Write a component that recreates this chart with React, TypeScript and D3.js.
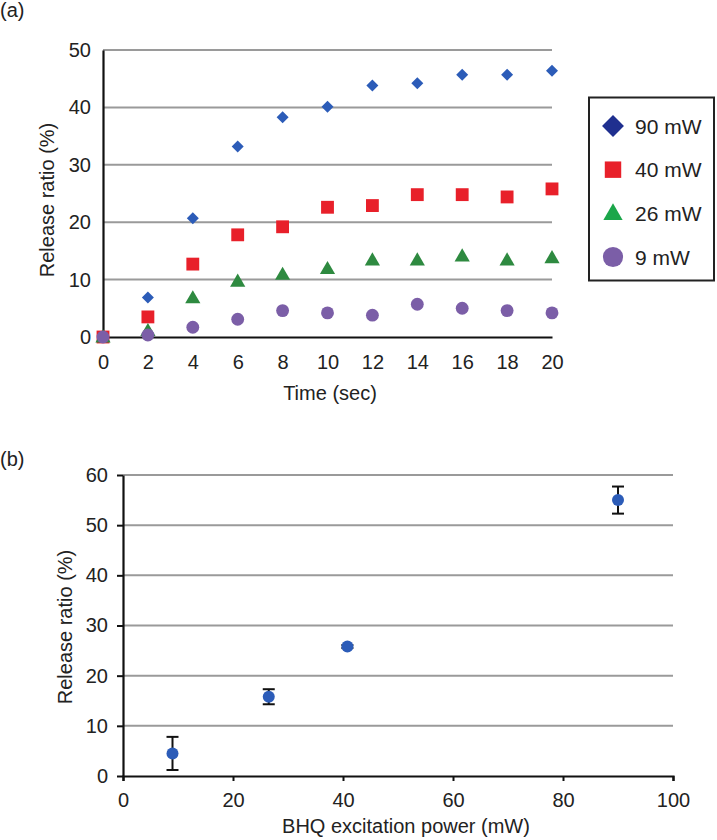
import React, { useEffect, useRef } from "react";
import * as d3 from "d3";

const times = [0, 2, 4, 6, 8, 10, 12, 14, 16, 18, 20];
const mw90 = [0, 6.9, 20.7, 33.2, 38.3, 40.1, 43.8, 44.2, 45.7, 45.7, 46.4];
const mw40 = [0, 3.5, 12.7, 17.8, 19.2, 22.6, 22.9, 24.8, 24.8, 24.4, 25.8];
const mw26 = [0, 1.1, 6.8, 9.7, 10.9, 11.9, 13.4, 13.4, 14.1, 13.4, 13.8];
const mw9 = [0, 0.35, 1.7, 3.1, 4.6, 4.2, 3.8, 5.7, 5.0, 4.6, 4.2];
const seriesNames = ["90 mW", "40 mW", "26 mW", "9 mW"];

const power = [9, 26.5, 40.8, 90];
const release = [4.5, 15.8, 25.8, 55.0];
const releaseErr = [3.3, 1.5, 0.3, 2.7];

const App = () => {
  const svgRef = useRef<SVGSVGElement>(null);

  useEffect(() => {
    const svg = d3.select(svgRef.current);
    svg.selectAll("*").remove();
    const font = "'Liberation Sans', Arial, sans-serif";
    const ink = "#222";
    svg.attr("font-family", font);

    const sym = (type: d3.SymbolType, size: number) => d3.symbol().type(type).size(size)();

    // ---- panel (a) ----
    const xA = d3.scaleLinear().domain([0, 20]).range([103, 552]);
    const yA = d3.scaleLinear().domain([0, 50]).range([337, 50]);

    svg.append("text").attr("x", 0).attr("y", 17).attr("font-size", 20).attr("fill", ink).text("(a)");

    const gA = svg.append("g");
    gA.selectAll("line.grid")
      .data(d3.range(10, 51, 10))
      .join("line")
      .attr("x1", xA(0))
      .attr("x2", xA(20))
      .attr("y1", (d) => yA(d))
      .attr("y2", (d) => yA(d))
      .attr("stroke", "#9a9a9a")
      .attr("stroke-width", 2);

    const xAxisA = gA.append("g")
      .attr("transform", `translate(0,${yA(0)})`)
      .call(d3.axisBottom(xA).tickValues(times).tickSize(0).tickPadding(18));
    const yAxisA = gA.append("g")
      .attr("transform", `translate(${xA(0)},0)`)
      .call(d3.axisLeft(yA).ticks(5).tickSize(0).tickPadding(12));
    [xAxisA, yAxisA].forEach((ax) => {
      ax.select(".domain").attr("stroke", "#111").attr("stroke-width", 2.2);
      ax.selectAll("text").attr("font-size", 20).attr("font-family", font).attr("fill", ink);
    });

    gA.append("text")
      .attr("x", 330)
      .attr("y", 400)
      .attr("text-anchor", "middle")
      .attr("font-size", 20)
      .attr("fill", ink)
      .text("Time (sec)");
    gA.append("text")
      .attr("transform", `translate(54,200) rotate(-90)`)
      .attr("text-anchor", "middle")
      .attr("font-size", 20)
      .attr("fill", ink)
      .text("Release ratio (%)");

    const drawSeries = (vals: number[], path: string | null, color: string, rot = 0, dy = 0) => {
      gA.append("g")
        .selectAll("path")
        .data(vals)
        .join("path")
        .attr("d", path)
        .attr("transform", (d, i) => `translate(${xA(times[i])},${yA(d) + dy}) rotate(${rot})`)
        .attr("fill", color);
    };
    drawSeries(mw90, sym(d3.symbolSquare, 72), "#2c5cb8", 45);
    drawSeries(mw40, sym(d3.symbolSquare, 165), "#e8202a");
    drawSeries(mw26, sym(d3.symbolTriangle, 100), "#2e8a40", 0, 1);
    drawSeries(mw9, sym(d3.symbolCircle, 130), "#7b5ea7");

    // legend
    const leg = svg.append("g");
    leg.append("rect")
      .attr("x", 589)
      .attr("y", 97.5)
      .attr("width", 125)
      .attr("height", 183)
      .attr("fill", "white")
      .attr("stroke", ink)
      .attr("stroke-width", 2);
    const legSym = [
      { p: sym(d3.symbolSquare, 240), c: "#1f2f8f", r: 45 },
      { p: sym(d3.symbolSquare, 270), c: "#e8202a", r: 0 },
      { p: sym(d3.symbolTriangle, 160), c: "#1ba64a", r: 0 },
      { p: sym(d3.symbolCircle, 320), c: "#7b5ea7", r: 0 },
    ];
    const legY = d3.scalePoint().domain(seriesNames).range([126, 257]);
    seriesNames.forEach((name, i) => {
      leg.append("path")
        .attr("d", legSym[i].p)
        .attr("transform", `translate(613,${(legY(name) as number) + (i === 2 ? 1 : 0)}) rotate(${legSym[i].r})`)
        .attr("fill", legSym[i].c);
      leg.append("text")
        .attr("x", 635)
        .attr("y", (legY(name) as number) + 7.5)
        .attr("font-size", 21)
        .attr("fill", ink)
        .text(name);
    });

    // ---- panel (b) ----
    const xB = d3.scaleLinear().domain([0, 100]).range([123, 673]);
    const yB = d3.scaleLinear().domain([0, 60]).range([776, 475]);

    svg.append("text").attr("x", 0).attr("y", 466).attr("font-size", 20).attr("fill", ink).text("(b)");

    const gB = svg.append("g");
    gB.selectAll("line.grid")
      .data(d3.range(10, 61, 10))
      .join("line")
      .attr("x1", xB(0))
      .attr("x2", xB(100))
      .attr("y1", (d) => yB(d))
      .attr("y2", (d) => yB(d))
      .attr("stroke", "#9a9a9a")
      .attr("stroke-width", 2);

    const xAxisB = gB.append("g")
      .attr("transform", `translate(0,${yB(0)})`)
      .call(d3.axisBottom(xB).ticks(5).tickSizeInner(5).tickSizeOuter(5).tickPadding(12));
    const yAxisB = gB.append("g")
      .attr("transform", `translate(${xB(0)},0)`)
      .call(d3.axisLeft(yB).ticks(6).tickSizeInner(6).tickSizeOuter(0).tickPadding(9));
    [xAxisB, yAxisB].forEach((ax) => {
      ax.select(".domain").attr("stroke", "#111").attr("stroke-width", 2.2);
      ax.selectAll(".tick line").attr("stroke", "#111").attr("stroke-width", 2);
      ax.selectAll("text").attr("font-size", 20).attr("font-family", font).attr("fill", ink);
    });

    gB.append("text")
      .attr("x", 406)
      .attr("y", 833)
      .attr("text-anchor", "middle")
      .attr("font-size", 20)
      .attr("fill", ink)
      .text("BHQ excitation power (mW)");
    gB.append("text")
      .attr("transform", `translate(72,627) rotate(-90)`)
      .attr("text-anchor", "middle")
      .attr("font-size", 20)
      .attr("fill", ink)
      .text("Release ratio (%)");

    const pts = power.map((p, i) => ({ x: p, y: release[i], e: releaseErr[i] }));
    const eb = gB.append("g").attr("stroke", "#111").attr("stroke-width", 2);
    pts.forEach((d) => {
      const cx = xB(d.x);
      eb.append("line").attr("x1", cx).attr("x2", cx).attr("y1", yB(d.y - d.e)).attr("y2", yB(d.y + d.e));
      [d.y - d.e, d.y + d.e].forEach((v) => {
        eb.append("line").attr("x1", cx - 6).attr("x2", cx + 6).attr("y1", yB(v)).attr("y2", yB(v));
      });
    });
    gB.append("g")
      .selectAll("circle")
      .data(pts)
      .join("circle")
      .attr("cx", (d) => xB(d.x))
      .attr("cy", (d) => yB(d.y))
      .attr("r", 6)
      .attr("fill", "#2c5cb8");
  }, []);

  return (
    <svg
      ref={svgRef}
      width={717}
      height={840}
      style={{ position: "absolute", left: 0, top: 0, background: "white" }}
    ></svg>
  );
};

export default App;
